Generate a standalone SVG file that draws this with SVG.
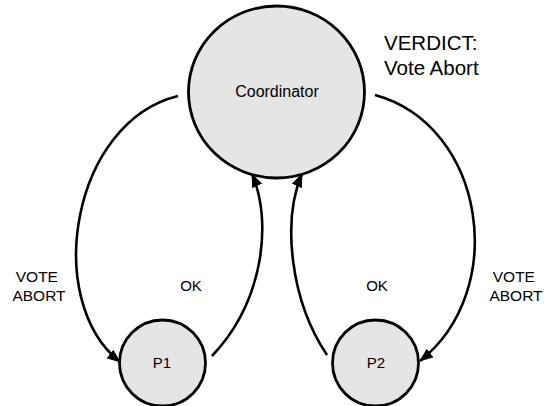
<svg xmlns="http://www.w3.org/2000/svg" width="544" height="406" viewBox="0 0 544 406">
  <style>
    .node { fill: #e5e5e5; stroke: #000; stroke-width: 2.8; }
    .lbl { font-family: "Liberation Sans", Arial, sans-serif; fill: #000; }
    .edge { fill: none; stroke: #000; stroke-width: 2.6; marker-end: url(#arrow); }
  </style>
  <defs>
    <marker id="arrow" viewBox="0 0 14 11" markerWidth="14" markerHeight="11" refX="13" refY="5.5" orient="auto" markerUnits="userSpaceOnUse">
      <path d="M0,0 L14,5.5 L0,11 z" fill="#000"/>
    </marker>
  </defs>
  <rect width="544" height="406" fill="#fff"/>

  <g id="connectors">
    <!-- vote abort: coordinator to P1 -->
    <path class="edge" d="M178,96 C72,122 42,300 120,362"/>
    <!-- ok: P1 to coordinator -->
    <path class="edge" d="M212,356 C265,300 272,220 252,174"/>
    <!-- ok: P2 to coordinator -->
    <path class="edge" d="M327,355 C290,300 282,220 302,174"/>
    <!-- vote abort: coordinator to P2 -->
    <path class="edge" d="M375,95 C485,125 510,290 420,361"/>
  </g>

  <g id="coordinator">
    <ellipse class="node" cx="276.5" cy="92" rx="88" ry="86"/>
    <text class="lbl" x="277" y="97" font-size="16" text-anchor="middle">Coordinator</text>
  </g>

  <g id="p1">
    <circle class="node" cx="162.5" cy="363" r="43"/>
    <text class="lbl" x="162" y="368" font-size="15" text-anchor="middle">P1</text>
  </g>

  <g id="p2">
    <circle class="node" cx="375.5" cy="363" r="43"/>
    <text class="lbl" x="376" y="368" font-size="15" text-anchor="middle">P2</text>
  </g>

  <g id="labels">
    <text class="lbl" font-size="15.5" text-anchor="middle">
      <tspan x="39" y="282">VOTE</tspan>
      <tspan x="39" y="301">ABORT</tspan>
    </text>
    <text class="lbl" x="191" y="291" font-size="15" text-anchor="middle">OK</text>
    <text class="lbl" x="377" y="291" font-size="15" text-anchor="middle">OK</text>
    <text class="lbl" font-size="15.5" text-anchor="middle">
      <tspan x="516" y="282">VOTE</tspan>
      <tspan x="516" y="301">ABORT</tspan>
    </text>
    <text class="lbl" font-size="20.5">
      <tspan x="384" y="50">VERDICT:</tspan>
      <tspan x="384" y="75">Vote Abort</tspan>
    </text>
  </g>
</svg>
